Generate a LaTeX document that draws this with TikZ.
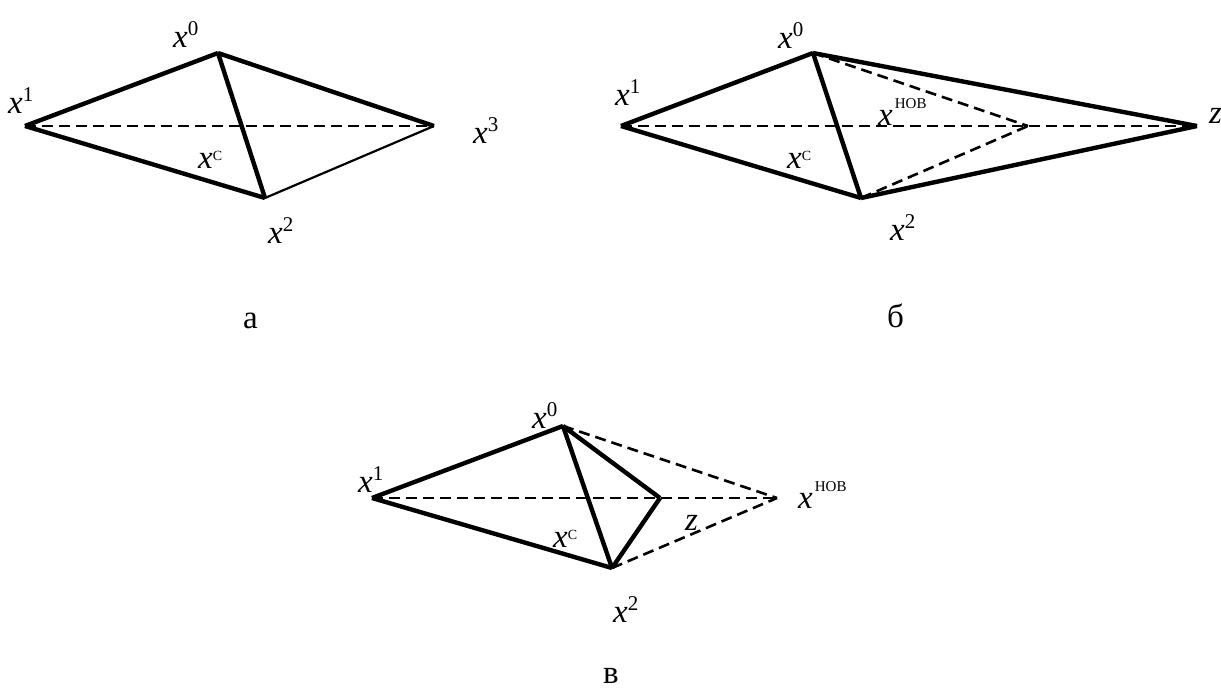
\documentclass[tikz,border=0pt]{standalone}
\usepackage{fontspec}
\setmainfont{Liberation Serif}
\newcommand{\xpt}[1]{\textit{x}\raisebox{12pt}{\fontsize{21}{21}\selectfont #1}}
\newcommand{\xcen}{\textit{x}\raisebox{8pt}{\fontsize{14}{14}\selectfont С}}
\newcommand{\xnov}{\textit{x}\kern2pt\raisebox{16.5pt}{\fontsize{15}{15}\selectfont НОВ}}

\begin{document}
\begin{tikzpicture}[x=1pt,y=-1pt,font=\fontsize{33}{35}\selectfont,
  edge/.style={line width=4.4pt},lite/.style={line width=2.2pt},
  aux/.style={line width=2.6pt,dash pattern=on 11pt off 6pt},
  lbl/.style={inner sep=0pt,anchor=base west}]
\useasboundingbox (0,0) rectangle (1221,688);
% panel a
\coordinate (a0) at (218,53); \coordinate (a1) at (25,126);
\coordinate (a2) at (265,198); \coordinate (a3) at (434,126);
\draw[aux] (a1)--(a3);
\draw[edge] (a1)--(a0); \draw[edge] (a0)--(a3);
\draw[edge] (a1)--(a2); \draw[edge] (a0)--(a2);
\draw[lite] (a2)--(a3);
\node[lbl] (la0) at (173,47) {\xpt{0}};
\node[lbl] (la1) at (8,113) {\xpt{1}};
\node[lbl] (la2) at (268,243) {\xpt{2}};
\node[lbl] (la3) at (473,143) {\xpt{3}};
\node[lbl] (lac) at (198,168) {\xcen};
\node[lbl] (capa) at (243,328) {а};
% panel b
\coordinate (b0) at (813,53); \coordinate (b1) at (621,126);
\coordinate (b2) at (861,198); \coordinate (bz) at (1197,126);
\coordinate (bn) at (1028,126);
\draw[aux] (b1)--(bz);
\draw[aux] (b0)--(bn); \draw[aux] (b2)--(bn);
\draw[edge] (b1)--(b0); \draw[edge] (b0)--(bz);
\draw[edge] (b1)--(b2); \draw[edge] (b2)--(bz);
\draw[edge] (b0)--(b2);
\node[lbl] (lb0) at (778,48) {\xpt{0}};
\node[lbl] (lb1) at (615,105) {\xpt{1}};
\node[lbl] (lb2) at (890,240) {\xpt{2}};
\node[lbl] (lbc) at (787,168) {\xcen};
\node[lbl] (lbn) at (878,125) {\xnov};
\node[lbl] (lbz) at (1209,123) {\textit{z}};
\node[lbl] (capb) at (887,327) {б};
% panel c
\coordinate (c0) at (563,426); \coordinate (c1) at (372,498);
\coordinate (c2) at (612,568); \coordinate (cz) at (660,498);
\coordinate (cn) at (777,498);
\draw[aux] (c1)--(cn);
\draw[aux] (c0)--(cn); \draw[aux] (c2)--(cn);
\draw[edge] (c1)--(c0); \draw[edge] (c1)--(c2);
\draw[edge] (c0)--(c2); \draw[edge] (c0)--(cz);
\draw[edge] (cz)--(c2);
\node[lbl] (lc0) at (532,428) {\xpt{0}};
\node[lbl] (lc1) at (358,492) {\xpt{1}};
\node[lbl] (lc2) at (613,622) {\xpt{2}};
\node[lbl] (lcc) at (553,547) {\xcen};
\node[lbl] (lcn) at (798,508) {\xnov};
\node[lbl] (lcz) at (685,530) {\textit{z}};
\node[lbl] (capc) at (603,683) {в};
\end{tikzpicture}
\end{document}
